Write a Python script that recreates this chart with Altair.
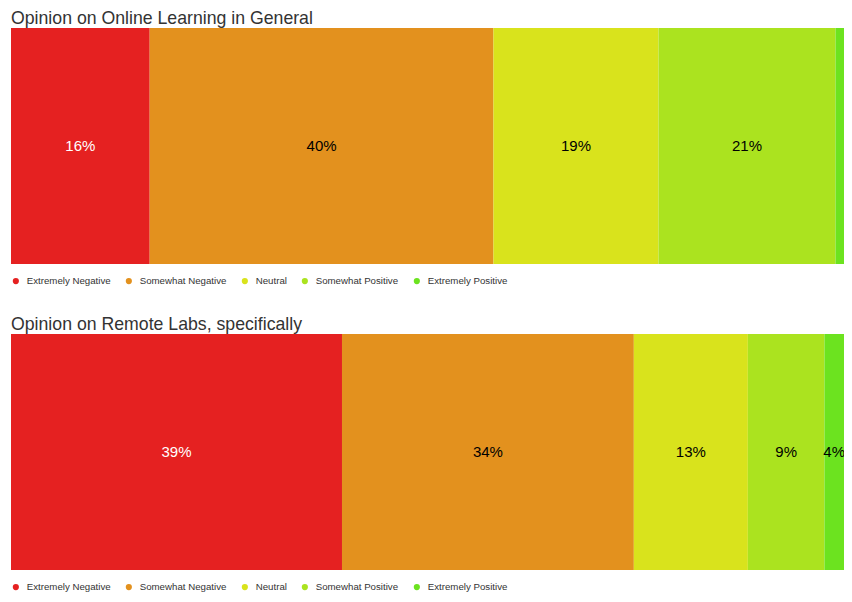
import altair as alt
import pandas as pd

categories = ["Extremely Negative", "Somewhat Negative", "Neutral",
              "Somewhat Positive", "Extremely Positive"]
colors = ["#e52121", "#e3911e", "#d9e31c", "#abe31f", "#6ce31f"]
general_pct = [16.3, 40.4, 19.4, 20.8, 3.1]
remote_pct = [38.9, 34.3, 13.4, 9.0, 4.4]
titles = ["Opinion on Online Learning in General",
          "Opinion on Remote Labs, specifically"]
visible_max = 97.9   # the bars run on past the right edge of the picture
min_labelled = 4     # slices narrower than this carry no label
label_margin = 1.15  # keep a label's centre this far inside the visible end

FONT = "Liberation Sans"


def make(values, title):
    df = pd.DataFrame({"category": categories, "value": values,
                       "order": list(range(len(categories)))})
    base = alt.Chart(df).transform_stack(
        stack="value", groupby=[], as_=["x0", "x1"],
        sort=[alt.SortField("order")]
    ).transform_calculate(
        mid=f"min((datum.x0 + datum.x1) / 2, {visible_max - label_margin})",
        label="format(datum.value, '.0f') + '%'"
    )
    xscale = alt.Scale(domain=[0, visible_max], nice=False, zero=True)
    bars = base.mark_rect(clip=True).encode(
        x=alt.X("x0:Q", scale=xscale, axis=None),
        x2="x1:Q",
        color=alt.Color("category:N",
                        scale=alt.Scale(domain=categories, range=colors),
                        legend=alt.Legend(orient="bottom", direction="horizontal",
                                          title=None, symbolType="circle",
                                          symbolSize=38, symbolStrokeWidth=0,
                                          labelFont=FONT, labelFontSize=9.7,
                                          labelColor="#333", labelOffset=6,
                                          columnPadding=13,
                                          offset=12, padding=0)),
    )
    text = base.transform_filter(f"datum.value >= {min_labelled}").mark_text(
        fontSize=15, font=FONT, clip=True
    ).encode(
        x=alt.X("mid:Q", scale=xscale),
        text="label:N",
        color=alt.condition("datum.category == 'Extremely Negative'",
                            alt.value("white"), alt.value("black")),
    )
    return alt.layer(bars, text).properties(
        width=833, height=236,
        title=alt.TitleParams(title, anchor="start", fontSize=17.7, font=FONT,
                              fontWeight="normal", color="#333", offset=0),
    )


chart = alt.vconcat(make(general_pct, titles[0]), make(remote_pct, titles[1]),
                    spacing=30).resolve_scale(color="independent").resolve_legend(
    color="independent"
).properties(
    padding={"left": 3, "top": 2, "right": 0, "bottom": 0}
).configure_view(stroke=None)

chart.save("out.html", embed_options={"renderer": "svg", "actions": False})
